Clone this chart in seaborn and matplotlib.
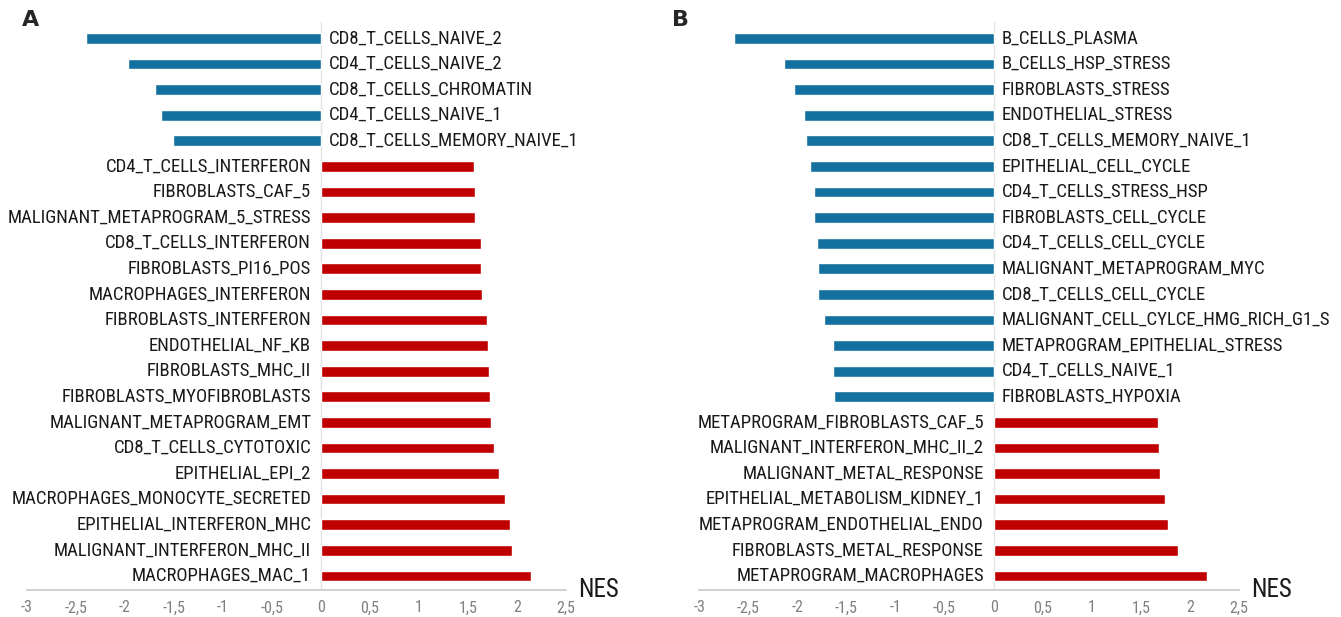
import matplotlib
matplotlib.use("Agg")
import matplotlib.pyplot as plt
from matplotlib import font_manager
import pandas as pd
import seaborn as sns

# Panel A gene sets and NES values (top to bottom)
labels_a = [
    "CD8_T_CELLS_NAIVE_2", "CD4_T_CELLS_NAIVE_2", "CD8_T_CELLS_CHROMATIN",
    "CD4_T_CELLS_NAIVE_1", "CD8_T_CELLS_MEMORY_NAIVE_1",
    "CD4_T_CELLS_INTERFERON", "FIBROBLASTS_CAF_5", "MALIGNANT_METAPROGRAM_5_STRESS",
    "CD8_T_CELLS_INTERFERON", "FIBROBLASTS_PI16_POS", "MACROPHAGES_INTERFERON",
    "FIBROBLASTS_INTERFERON", "ENDOTHELIAL_NF_KB", "FIBROBLASTS_MHC_II",
    "FIBROBLASTS_MYOFIBROBLASTS", "MALIGNANT_METAPROGRAM_EMT", "CD8_T_CELLS_CYTOTOXIC",
    "EPITHELIAL_EPI_2", "MACROPHAGES_MONOCYTE_SECRETED", "EPITHELIAL_INTERFERON_MHC",
    "MALIGNANT_INTERFERON_MHC_II", "MACROPHAGES_MAC_1",
]
nes_a = [
    -2.40, -1.97, -1.69, -1.63, -1.51,
    1.56, 1.57, 1.57, 1.63, 1.63, 1.64, 1.69, 1.70, 1.71,
    1.72, 1.73, 1.76, 1.82, 1.88, 1.93, 1.95, 2.14,
]

# Panel B
labels_b = [
    "B_CELLS_PLASMA", "B_CELLS_HSP_STRESS", "FIBROBLASTS_STRESS", "ENDOTHELIAL_STRESS",
    "CD8_T_CELLS_MEMORY_NAIVE_1", "EPITHELIAL_CELL_CYCLE", "CD4_T_CELLS_STRESS_HSP",
    "FIBROBLASTS_CELL_CYCLE", "CD4_T_CELLS_CELL_CYCLE", "MALIGNANT_METAPROGRAM_MYC",
    "CD8_T_CELLS_CELL_CYCLE", "MALIGNANT_CELL_CYLCE_HMG_RICH_G1_S",
    "METAPROGRAM_EPITHELIAL_STRESS", "CD4_T_CELLS_NAIVE_1", "FIBROBLASTS_HYPOXIA",
    "METAPROGRAM_FIBROBLASTS_CAF_5", "MALIGNANT_INTERFERON_MHC_II_2",
    "MALIGNANT_METAL_RESPONSE", "EPITHELIAL_METABOLISM_KIDNEY_1",
    "METAPROGRAM_ENDOTHELIAL_ENDO", "FIBROBLASTS_METAL_RESPONSE", "METAPROGRAM_MACROPHAGES",
]
nes_b = [
    -2.64, -2.14, -2.03, -1.93, -1.91, -1.87, -1.83, -1.83, -1.80, -1.79,
    -1.79, -1.73, -1.64, -1.64, -1.63,
    1.67, 1.68, 1.69, 1.75, 1.78, 1.88, 2.17,
]

xticks = [-3, -2.5, -2, -1.5, -1, -0.5, 0, 0.5, 1, 1.5, 2, 2.5]

BLUE = "#14709e"
RED = "#c00000"

sns.set_style("white")
available = {f.name for f in font_manager.fontManager.ttflist}
label_font = "Roboto"
label_size = 12
for cand in ["Roboto Condensed", "Liberation Sans Narrow", "Open Sans Condensed"]:
    if cand in available:
        label_font = cand
        label_size = 13.5
        break
plt.rcParams["font.family"] = [label_font, "DejaVu Sans"]


def draw_panel(ax, labels, values):
    df = pd.DataFrame({"set": labels, "nes": values})
    df["dir"] = ["neg" if v < 0 else "pos" for v in values]
    sns.barplot(
        data=df, x="nes", y="set", hue="dir", palette={"neg": BLUE, "pos": RED},
        orient="h", width=0.42, legend=False, ax=ax, saturation=1,
    )
    bottom = len(labels) - 0.45
    ax.set_xlim(-3, 2.5)
    ax.set_ylim(bottom, -0.64)
    ax.axvline(0, color="#e3e3e3", lw=1, zorder=0)

    # Labels sit on the opposite side of zero from the bar
    for i, (name, v) in enumerate(zip(labels, values)):
        if v < 0:
            ax.text(0.08, i, name, ha="left", va="center", fontsize=label_size,
                    color="#1a1a1a")
        else:
            ax.text(-0.1, i, name, ha="right", va="center", fontsize=label_size,
                    color="#1a1a1a")

    ax.set_yticks([])
    ax.set_ylabel("")
    ax.set_xlabel("")
    ax.set_xticks(xticks)
    ax.set_xticklabels([f"{t:g}".replace(".", ",") for t in xticks],
                       fontsize=11.5, color="#7f7f7f")
    ax.tick_params(axis="x", direction="inout", length=7, width=1, color="#c8c8c8", pad=4)
    for side in ["top", "right", "left"]:
        ax.spines[side].set_visible(False)
    ax.spines["bottom"].set_color("#c8c8c8")
    ax.spines["bottom"].set_linewidth(1.2)
    ax.text(2.62, bottom, "NES", ha="left", va="center", fontsize=18, color="#1a1a1a")


fig = plt.figure(figsize=(13.41, 6.17), dpi=100)
ax_a = fig.add_axes([0.0201, 0.0438, 0.402, 0.9205])
ax_b = fig.add_axes([0.5213, 0.0438, 0.4027, 0.9205])
draw_panel(ax_a, labels_a, nes_a)
draw_panel(ax_b, labels_b, nes_b)
fig.text(22 / 1341, 1 - 20 / 617, "A", ha="left", va="center", fontsize=16,
         fontweight="bold", family=["DejaVu Sans"])
fig.text(672 / 1341, 1 - 20 / 617, "B", ha="left", va="center", fontsize=16,
         fontweight="bold", family=["DejaVu Sans"])

fig.savefig("out.png", dpi=100, facecolor="white")
